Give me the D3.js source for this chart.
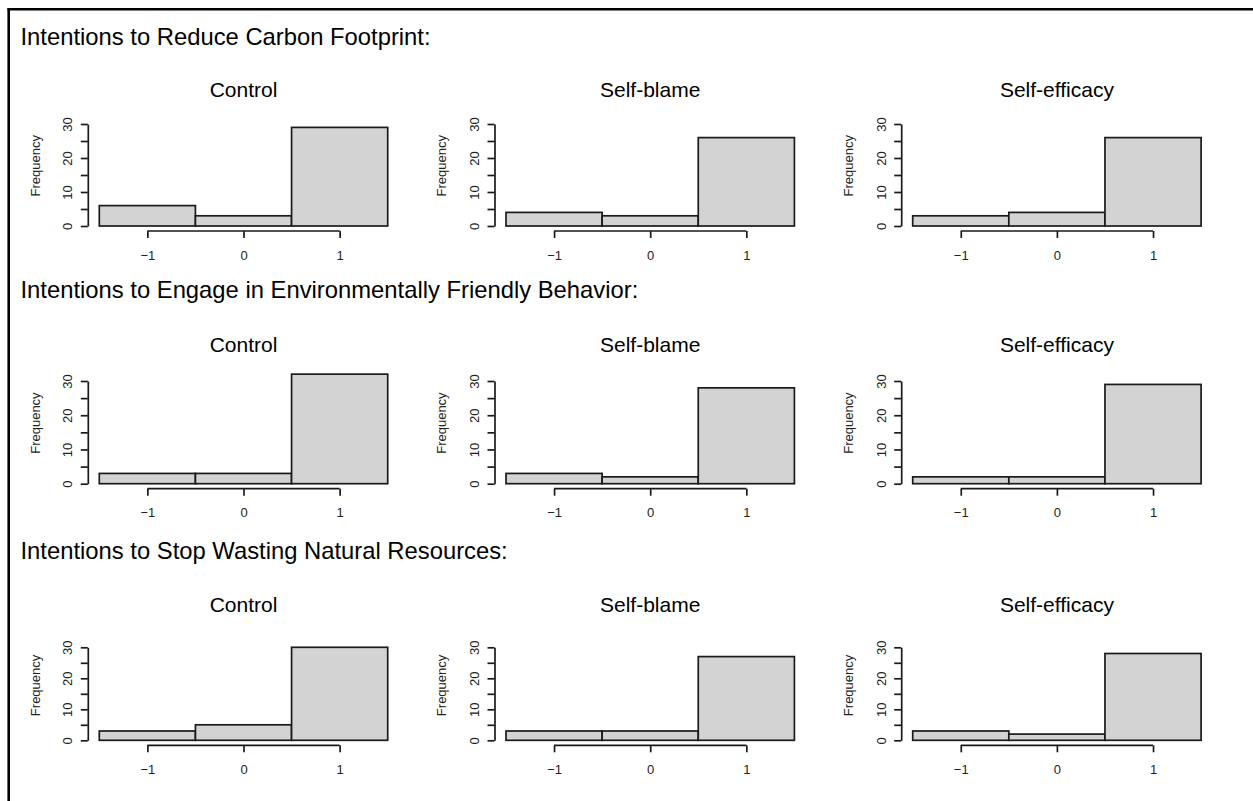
<!DOCTYPE html>
<html>
<head>
<meta charset="utf-8">
<script src="https://cdn.jsdelivr.net/npm/d3@7"></script>
<style>
  html, body { margin: 0; padding: 0; background: #fff; }
  svg { display: block; font-family: "Liberation Sans", Arial, sans-serif; }
</style>
</head>
<body>
<svg id="chart" width="1253" height="801"></svg>
<script>
"use strict"

// data
const bins = [-1, 0, 1]
const groups = ['Control', 'Self-blame', 'Self-efficacy']
const measures = [
  'Intentions to Reduce Carbon Footprint:',
  'Intentions to Engage in Environmentally Friendly Behavior:',
  'Intentions to Stop Wasting Natural Resources:',
]
const carbonCounts = [[6, 3, 29], [4, 3, 26], [3, 4, 26]]
const behaviorCounts = [[3, 3, 32], [3, 2, 28], [2, 2, 29]]
const resourceCounts = [[3, 5, 30], [3, 3, 27], [3, 2, 28]]
const countsByMeasure = [carbonCounts, behaviorCounts, resourceCounts]
const yTicks = [0, 5, 10, 15, 20, 25, 30]
const yLabelled = [0, 10, 20, 30]

// layout
const colLeft = [99.3, 506, 912.7]
const plotW = 288.4
const rows = [
  {heading: 45, title: 97.3, base: 226, top30: 124},
  {heading: 298.3, title: 352, base: 483.7, top30: 381},
  {heading: 559, title: 612.3, base: 740.3, top30: 647.3},
]
const ink = '#1a1a1a'

const svg = d3.select('#chart')

// frame (top and left only, as cropped in the reference)
svg.append('line').attr('x1', 7.5).attr('x2', 1253).attr('y1', 9.3).attr('y2', 9.3)
  .attr('stroke', '#000').attr('stroke-width', 2.4)
svg.append('line').attr('x1', 8.7).attr('x2', 8.7).attr('y1', 8).attr('y2', 801)
  .attr('stroke', '#000').attr('stroke-width', 2.6)

rows.forEach((row, r) => {
  svg.append('text')
    .attr('x', 20.5).attr('y', row.heading)
    .attr('font-size', 23.8).attr('fill', '#000')
    .text(measures[r])

  const y = d3.scaleLinear().domain([0, 30]).range([row.base, row.top30])

  groups.forEach((grp, c) => {
    const counts = countsByMeasure[r][c]
    const x = d3.scaleLinear().domain([-1.5, 1.5]).range([colLeft[c], colLeft[c] + plotW])
    const g = svg.append('g')

    g.append('text')
      .attr('x', x(0)).attr('y', row.title)
      .attr('text-anchor', 'middle').attr('font-size', 21).attr('fill', '#000')
      .text(grp)

    g.selectAll('rect.bar')
      .data(bins.map((b, i) => ({b, n: counts[i]})))
      .enter().append('rect')
        .attr('class', 'bar')
        .attr('x', d => x(d.b - 0.5))
        .attr('width', d => x(d.b + 0.5) - x(d.b - 0.5))
        .attr('y', d => y(d.n))
        .attr('height', d => y(0) - y(d.n))
        .attr('fill', '#d3d3d3')
        .attr('stroke', ink)
        .attr('stroke-width', 1.7)

    // y axis
    const axisX = colLeft[c] - 11.5
    const ya = g.append('g')
      .attr('transform', `translate(${axisX},0)`)
      .call(d3.axisLeft(y).tickValues(yTicks).tickSize(7).tickSizeOuter(0)
        .tickFormat(d => yLabelled.includes(d) ? d : ''))
    ya.select('.domain').attr('stroke', ink).attr('stroke-width', 1.7)
    ya.selectAll('.tick line').attr('stroke', ink).attr('stroke-width', 1.7)
    ya.selectAll('.tick text')
      .attr('x', null).attr('dy', null)
      .attr('transform', 'translate(-15.5,0) rotate(-90)')
      .attr('text-anchor', 'middle')
      .attr('font-size', 13).attr('fill', '#222')
      .attr('font-family', '"Liberation Sans", Arial, sans-serif')

    g.append('text')
      .attr('transform', `translate(${axisX - 48.3},${y(17.7)}) rotate(-90)`)
      .attr('text-anchor', 'middle').attr('font-size', 13).attr('fill', '#222')
      .text('Frequency')

    // x axis, drawn from the first to the last tick like R does
    const xa = g.append('g')
      .attr('transform', `translate(0,${row.base + 5})`)
      .call(d3.axisBottom(x).tickValues(bins).tickSize(7).tickSizeOuter(0)
        .tickFormat(d => d < 0 ? '\u2212' + Math.abs(d) : d))
    xa.select('.domain').remove()
    xa.append('line')
      .attr('x1', x(bins[0])).attr('x2', x(bins[bins.length - 1]))
      .attr('stroke', ink).attr('stroke-width', 1.7)
    xa.selectAll('.tick line').attr('stroke', ink).attr('stroke-width', 1.7)
    xa.selectAll('.tick text')
      .attr('y', 28.7).attr('dy', null)
      .attr('font-size', 13).attr('fill', '#222')
      .attr('font-family', '"Liberation Sans", Arial, sans-serif')
  })
})
</script>
</body>
</html>
